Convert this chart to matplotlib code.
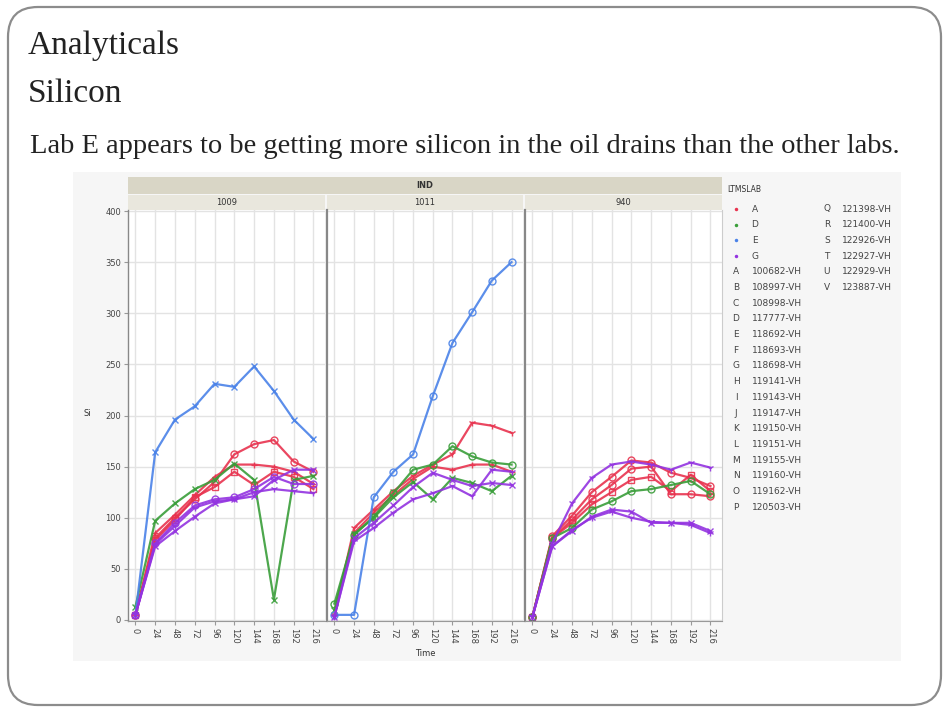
import matplotlib
matplotlib.use("Agg")
import matplotlib.pyplot as plt
from matplotlib.patches import FancyBboxPatch, Rectangle

# time points (hours) shared by every run
time_h = [0, 24, 48, 72, 96, 120, 144, 168, 192, 216]

# Si (ppm) by run, engine stand 1009
si_1009_a1 = [5, 80, 100, 118, 135, 162, 172, 176, 155, 145]
si_1009_a2 = [5, 85, 103, 122, 140, 152, 152, 150, 145, 133]
si_1009_a3 = [5, 78, 98, 120, 130, 145, 132, 145, 140, 128]
si_1009_d1 = [13, 97, 114, 128, 137, 153, 137, 20, 137, 141]
si_1009_e1 = [5, 164, 196, 209, 231, 228, 248, 224, 196, 177]
si_1009_g1 = [5, 72, 87, 101, 114, 118, 121, 137, 147, 147]
si_1009_g2 = [5, 75, 95, 112, 118, 120, 128, 140, 133, 133]
si_1009_g3 = [5, 74, 92, 110, 116, 118, 125, 128, 126, 124]

# engine stand 1011
si_1011_a1 = [5, 90, 108, 126, 141, 152, 162, 193, 190, 183]
si_1011_a2 = [5, 85, 105, 122, 138, 150, 147, 152, 152, 145]
si_1011_d1 = [16, 83, 101, 124, 147, 152, 170, 160, 154, 152]
si_1011_d2 = [10, 84, 100, 120, 135, 118, 139, 134, 126, 141]
si_1011_e1 = [5, 5, 120, 145, 162, 219, 271, 301, 332, 350]
si_1011_g1 = [3, 77, 90, 105, 118, 124, 131, 121, 147, 145]
si_1011_g2 = [3, 80, 95, 112, 130, 144, 137, 131, 134, 132]

# engine stand 940
si_940_a1 = [3, 82, 102, 125, 140, 156, 154, 144, 139, 131]
si_940_a2 = [3, 80, 98, 118, 132, 148, 150, 123, 123, 121]
si_940_a3 = [3, 80, 95, 113, 125, 137, 140, 126, 142, 126]
si_940_d1 = [3, 80, 90, 108, 116, 126, 128, 132, 136, 123]
si_940_g1 = [3, 75, 114, 139, 152, 155, 152, 147, 154, 149]
si_940_g2 = [3, 72, 87, 101, 108, 106, 95, 95, 95, 87]
si_940_g3 = [3, 72, 88, 100, 106, 100, 96, 95, 93, 85]

stands = ["1009", "1011", "940"]
labs = ["A", "D", "E", "G"]
lab_colors = {"A": "#e8334f", "D": "#3a9e3a", "E": "#4a82e8", "G": "#9333e0"}

run_letters = list("ABCDEFGHIJKLMNOP")
run_codes = ["100682-VH", "108997-VH", "108998-VH", "117777-VH", "118692-VH",
             "118693-VH", "118698-VH", "119141-VH", "119143-VH", "119147-VH",
             "119150-VH", "119151-VH", "119155-VH", "119160-VH", "119162-VH",
             "120503-VH"]
run_letters2 = list("QRSTUV")
run_codes2 = ["121398-VH", "121400-VH", "122926-VH", "122927-VH", "122929-VH",
              "123887-VH"]

runs = {
    "1009": [("A", "o", si_1009_a1), ("A", "+", si_1009_a2), ("A", "s", si_1009_a3),
             ("D", "x", si_1009_d1), ("E", "x", si_1009_e1), ("G", "x", si_1009_g1),
             ("G", "o", si_1009_g2), ("G", "1", si_1009_g3)],
    "1011": [("A", "1", si_1011_a1), ("A", "+", si_1011_a2), ("D", "o", si_1011_d1),
             ("D", "x", si_1011_d2), ("E", "o", si_1011_e1), ("G", "1", si_1011_g1),
             ("G", "x", si_1011_g2)],
    "940": [("A", "o", si_940_a1), ("A", "o", si_940_a2), ("A", "s", si_940_a3),
            ("D", "o", si_940_d1), ("G", "1", si_940_g1), ("G", "x", si_940_g2),
            ("G", "1", si_940_g3)],
}

W, H = 945, 708
fig = plt.figure(figsize=(W / 100, H / 100), dpi=100)


def px_axes(x0, y0, x1, y1):
    # axes placed by pixel box, y measured from the top
    return fig.add_axes([x0 / W, 1 - y1 / H, (x1 - x0) / W, (y1 - y0) / H])


bg = px_axes(0, 0, W, H)
bg.set_xlim(0, W)
bg.set_ylim(H, 0)
bg.axis("off")

bg.add_patch(FancyBboxPatch((8, 7), 933, 698, boxstyle="round,pad=0,rounding_size=30",
                            fc="white", ec="#8c8c8c", lw=1.6))
serif = "Liberation Serif"
bg.text(28, 54, "Analyticals", fontsize=24, family=serif, color="#222222", va="baseline")
bg.text(28, 102, "Silicon", fontsize=24, family=serif, color="#222222", va="baseline")
bg.text(30, 153, "Lab E appears to be getting more silicon in the oil drains than the other labs.",
        fontsize=20.5, family=serif, color="#222222", va="baseline")

# chart frame
bg.add_patch(Rectangle((73, 172), 828, 489, fc="#f6f6f6", ec="none"))
bg.add_patch(Rectangle((128, 177), 594, 17, fc="#d9d6c6", ec="none"))
bg.text(425, 186, "IND", fontsize=6, weight="bold", ha="center", va="center", color="#333333")

panel_x = [(128, 325), (327, 523), (525, 722)]
for (x0, x1), name in zip(panel_x, stands):
    bg.add_patch(Rectangle((x0, 195), x1 - x0, 15, fc="#e9e7dd", ec="none"))
    bg.text((x0 + x1) / 2, 202.5, name, fontsize=6, ha="center", va="center", color="#333333")

bg.text(87, 414, "Si", fontsize=6, ha="center", va="center", color="#333333")
bg.text(425, 653, "Time", fontsize=6, ha="center", va="center", color="#333333")

# legend
bg.text(727, 189, "LTMSLAB", fontsize=5.5, ha="left", va="center", color="#333333")
row_y = [209 + 15.7 * i for i in range(20)]
for i, lab in enumerate(labs):
    bg.plot(736, row_y[i], "o", ms=2.5, color=lab_colors[lab], mec="none")
    bg.text(755, row_y[i], lab, fontsize=6.5, ha="center", va="center", color="#444444")
for i, (letter, code) in enumerate(zip(run_letters, run_codes)):
    y = row_y[i + 4]
    bg.text(736, y, letter, fontsize=6.5, ha="center", va="center", color="#444444")
    bg.text(752, y, code, fontsize=6.5, ha="left", va="center", color="#444444")
for i, (letter, code) in enumerate(zip(run_letters2, run_codes2)):
    y = row_y[i]
    bg.text(827, y, letter, fontsize=6.5, ha="center", va="center", color="#444444")
    bg.text(842, y, code, fontsize=6.5, ha="left", va="center", color="#444444")

for k, ((x0, x1), name) in enumerate(zip(panel_x, stands)):
    ax = px_axes(x0, 210, x1, 621)
    for lab, marker, vals in runs[name]:
        ax.plot(time_h, vals, color=lab_colors[lab], lw=1.6, marker=marker, ms=5,
                mfc="none", mew=1.0, alpha=0.9)
    ax.set_xlim(-9, 230)
    ax.set_ylim(-1, 401)
    ax.set_xticks(time_h)
    ax.set_xticklabels([str(t) for t in time_h], rotation=270, fontsize=6, color="#444444")
    ax.set_yticks(range(0, 401, 50))
    ax.grid(True, color="#e3e3e3", lw=1.0)
    ax.set_axisbelow(True)
    ax.tick_params(axis="x", length=3, color="#999999", pad=2)
    if k == 0:
        ax.tick_params(axis="y", labelsize=6, labelcolor="#444444", length=3,
                       color="#999999", pad=2)
    else:
        ax.tick_params(axis="y", left=False, labelleft=False)
    for side in ["top", "right"]:
        ax.spines[side].set_visible(False)
    ax.spines["bottom"].set_color("#999999")
    ax.spines["left"].set_color("#888888")
    ax.spines["left"].set_linewidth(1.6 if k else 1.0)
    if k == 2:
        ax.spines["right"].set_visible(True)
        ax.spines["right"].set_color("#cccccc")

fig.savefig("out.png", dpi=100)
